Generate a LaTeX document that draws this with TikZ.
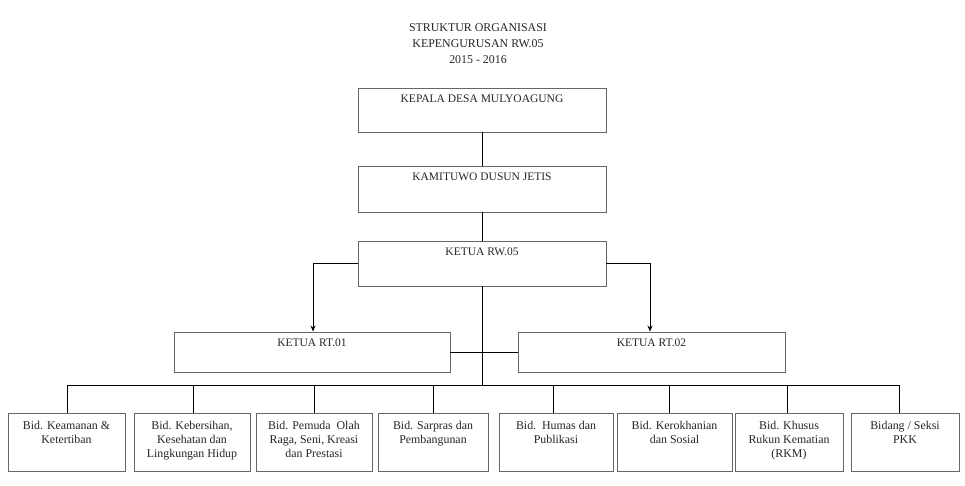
\documentclass[tikz,border=0pt]{standalone}
\usepackage{fontspec}
\setmainfont{Liberation Serif}
\usetikzlibrary{arrows.meta,positioning}
\begin{document}
\begin{tikzpicture}[x=1pt,y=-1pt,
  every node/.style={text=black!85},
  box/.style={draw=black!60,line width=0.9pt,rectangle,inner sep=0pt,fill=white},
  lbl/.style={anchor=north,inner sep=0pt,yshift=-7pt,font=\fontsize{11.5}{14}\selectfont,align=center,text=black!85},
  blbl/.style={anchor=north,inner sep=0pt,yshift=-8pt,font=\fontsize{11.9}{14}\selectfont,align=center,text=black!85},
  conn/.style={draw=black,line width=0.9pt},
  arr/.style={conn,-{Stealth[length=6pt,width=5pt]}}
]
\useasboundingbox (0,0) rectangle (965,486);
\fill[white] (0,0) rectangle (965,486);

\node[font=\fontsize{11.9}{16}\selectfont,align=center] (title) at (478,44)
  {STRUKTUR ORGANISASI\\KEPENGURUSAN RW.05\\2015 - 2016};

\node[box,minimum width=248pt,minimum height=44pt,label={[lbl]north:KEPALA DESA MULYOAGUNG}] (kd) at (482,110) {};
\node[box,minimum width=248pt,minimum height=46pt,label={[lbl]north:KAMITUWO DUSUN JETIS}] (kam) at (482,189) {};
\node[box,minimum width=248pt,minimum height=45pt,label={[lbl]north:KETUA RW.05}] (rw) at (482,263.5) {};
\node[box,minimum width=276pt,minimum height=40pt,label={[lbl]north:KETUA RT.01}] (rt1) at (312,352) {};
\node[box,minimum width=267pt,minimum height=40pt,label={[lbl]north:KETUA RT.02}] (rt2) at (651.5,352) {};

\node[box,minimum width=117pt,minimum height=58pt,label={[blbl]north:Bid. Keamanan \&\\Ketertiban}] (b1) at (66.5,442) {};
\node[box,minimum width=116pt,minimum height=58pt,label={[blbl]north:Bid. Kebersihan,\\Kesehatan dan\\Lingkungan Hidup}] (b2) at (192,442) {};
\node[box,minimum width=116pt,minimum height=58pt,label={[blbl]north:Bid. Pemuda\ \ Olah\\Raga, Seni, Kreasi\\dan Prestasi}] (b3) at (314,442) {};
\node[box,minimum width=110pt,minimum height=58pt,label={[blbl]north:Bid. Sarpras dan\\Pembangunan}] (b4) at (433,442) {};
\node[box,minimum width=114pt,minimum height=58pt,label={[blbl]north:Bid.\ \ Humas dan\\Publikasi}] (b5) at (556,442) {};
\node[box,minimum width=115pt,minimum height=58pt,label={[blbl]north:Bid. Kerokhanian\\dan Sosial}] (b6) at (674.5,442) {};
\node[box,minimum width=108pt,minimum height=58pt,label={[blbl]north:Bid. Khusus\\Rukun Kematian\\(RKM)}] (b7) at (789,442) {};
\node[box,minimum width=108pt,minimum height=58pt,label={[blbl]north:Bidang / Seksi\\PKK}] (b8) at (905,442) {};

\coordinate (bus) at (482,385);
\coordinate (d1) at (67,385);
\coordinate (d2) at (193,385);
\coordinate (d3) at (314,385);
\coordinate (d4) at (433,385);
\coordinate (d5) at (553,385);
\coordinate (d6) at (669,385);
\coordinate (d7) at (787,385);
\coordinate (d8) at (899,385);

\draw[conn] (kd.south) -- (kam.north);
\draw[conn] (kam.south) -- (rw.north);
\draw[arr] (rw.west) -| ([xshift=1pt]rt1.north);
\draw[arr] (rw.east) -| ([xshift=-1.5pt]rt2.north);
\draw[conn] (rw.south) -- (bus);
\draw[conn] (rt1.east) -- (rt2.west);
\draw[conn] (d1) -- (d8);
\foreach \i in {1,...,8} {\draw[conn] (d\i) -- (d\i |- b\i.north);}
\end{tikzpicture}
\end{document}
